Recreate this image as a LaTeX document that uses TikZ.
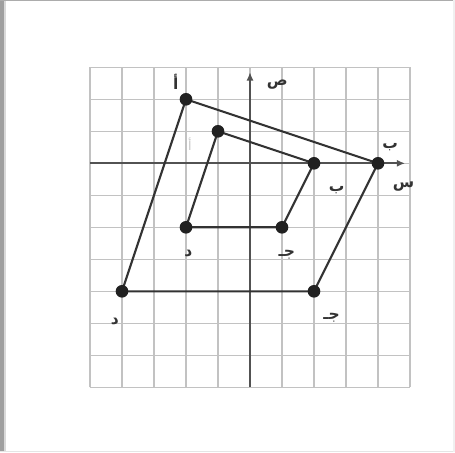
\documentclass[tikz,border=0pt]{standalone}
\usepackage{fontspec}
\newfontfamily\arabicfont[Script=Arabic]{DejaVu Sans}
\TeXXeTstate=1
\usetikzlibrary{arrows.meta}
\definecolor{gridc}{gray}{0.76}
\definecolor{axisc}{gray}{0.32}
\definecolor{linec}{gray}{0.20}
\definecolor{dotc}{gray}{0.13}
\definecolor{labc}{gray}{0.20}
\tikzset{
  gridline/.style={draw=gridc, line width=1pt},
  axisline/.style={draw=axisc, line width=1.7pt, -{Latex[length=6pt,width=5pt]}},
  polyline/.style={draw=linec, line width=1.5pt},
  dotpt/.style={circle, fill=dotc, inner sep=0pt, minimum size=9pt},
  lab/.style={text=labc, inner sep=0pt, font=\arabicfont\bfseries\fontsize{11}{11}\selectfont},
  faintlab/.style={text=gray!45, inner sep=0pt, font=\arabicfont\fontsize{9}{9}\selectfont}
}
\begin{document}
\begin{tikzpicture}[x=0.8cm,y=0.8cm]
% canvas and frame
\fill[white] (-7.8125,-9.022) rectangle (6.406,5.103);
\useasboundingbox (-7.8125,-9.022) rectangle (6.406,5.103);
\fill[gray!75] (-7.8125,-9.022) rectangle (-7.69,5.103);
\fill[gray!30] (-7.69,-9.022) rectangle (-7.625,5.103);
\fill[gray!65] (-7.8125,5.06) rectangle (6.406,5.103);
\fill[gray!20] (-7.8125,-9.022) rectangle (6.406,-8.99);
\fill[gray!12] (6.34,-9.022) rectangle (6.406,5.103);
% grid
\foreach \i in {-5,...,5} \draw[gridline] (\i,-7) -- (\i,3);
\foreach \j in {-7,...,3} \draw[gridline] (-5,\j) -- (5,\j);
% axes
\coordinate (xs) at (-5,0);
\coordinate (xe) at (4.85,0);
\coordinate (ys) at (0,-7);
\coordinate (ye) at (0,2.85);
\draw[axisline] (xs) -- (xe);
\draw[axisline] (ys) -- (ye);
% outer polygon
\coordinate (A) at (-2,2);
\coordinate (B) at (4,0);
\coordinate (C) at (2,-4);
\coordinate (D) at (-4,-4);
% inner polygon
\coordinate (a) at (-1,1);
\coordinate (b) at (2,0);
\coordinate (c) at (1,-2);
\coordinate (d) at (-2,-2);
\draw[polyline] (A) -- (B) -- (C) -- (D) -- cycle;
\draw[polyline] (a) -- (b) -- (c) -- (d) -- cycle;
\foreach \p in {A,B,C,D,a,b,c,d} \node[dotpt] (dot\p) at (\p) {};
% labels
\node[lab] (lA) at (-2.32,2.55) {\beginR أ\endR};
\node[faintlab] (la) at (-1.88,0.6) {\beginR أ\endR};
\node[lab] (ly) at (0.85,2.45) {\beginR ص\endR};
\node[lab] (lx) at (4.8,-0.74) {\beginR س\endR};
\node[lab] (lB) at (4.38,0.52) {\beginR ب\endR};
\node[lab] (lb) at (2.71,-0.83) {\beginR ب\endR};
\node[lab] (lc) at (1.15,-2.87) {\beginR جـ\endR};
\node[lab] (lC) at (2.55,-4.84) {\beginR جـ\endR};
\node[lab] (ld) at (-1.93,-2.81) {\beginR د\endR};
\node[lab] (lD) at (-4.22,-4.95) {\beginR د\endR};
\end{tikzpicture}
\end{document}
